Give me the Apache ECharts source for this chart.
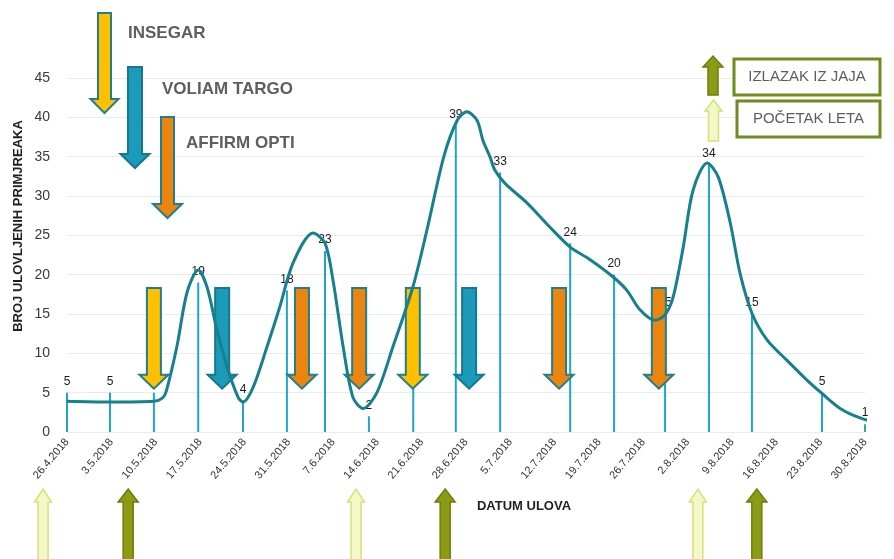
<!DOCTYPE html>
<html>
<head>
<meta charset="utf-8">
<script src="https://cdn.jsdelivr.net/npm/echarts@6/dist/echarts.min.js"></script>
<style>
  html, body { margin: 0; padding: 0; background: #ffffff; }
  #chart { width: 894px; height: 559px; }
</style>
</head>
<body>
<div id="chart"></div>
<script>
// Weekly dates shown on the x axis (tick n = n weeks after 26.4.2018)
const weekLabels = ['26.4.2018', '3.5.2018', '10.5.2018', '17.5.2018', '24.5.2018', '31.5.2018',
  '7.6.2018', '14.6.2018', '21.6.2018', '28.6.2018', '5.7.2018', '12.7.2018', '19.7.2018',
  '26.7.2018', '2.8.2018', '9.8.2018', '16.8.2018', '23.8.2018', '30.8.2018'];

// Trap catches: time of reading (weeks after 26.4.2018) and number of specimens
const catchWeek  = [0, 0.97, 1.96, 2.96, 3.97, 4.96, 5.82, 6.81, 7.81, 8.77, 9.77, 11.35, 12.34, 13.49, 14.48, 15.45, 17.03, 18];
const catchCount = [5, 5, 5, 19, 4, 18, 23, 2, 6, 39, 33, 24, 20, 15, 34, 15, 5, 1];

// Smoothed flight curve
const trendWeek  = [0, 0.97, 1.96, 2.15, 2.24, 2.48, 2.71, 2.96, 3.16, 3.38, 3.61, 3.86, 3.97,
  4.2, 4.51, 4.8, 5.1, 5.55, 5.82, 6.0, 6.23, 6.45, 6.68, 6.99, 7.35, 7.8, 8.12, 8.5, 8.8, 9.02,
  9.25, 9.38, 9.54, 9.65, 9.88, 10.38, 10.9, 11.35, 11.8, 12.32, 12.63, 12.93, 13.26, 13.49,
  13.67, 13.9, 14.12, 14.44, 14.69, 14.96, 15.18, 15.45, 15.79, 16.24, 16.69, 17.03, 17.44,
  17.89, 18.34, 18.66];
const trendValue = [3.9, 3.8, 3.9, 4.3, 5.2, 10.9, 17.8, 20.6, 18.4, 13, 8.3, 4.4, 3.8,
  5.7, 10.8, 15.9, 21.5, 25.3, 24, 19.3, 10.8, 4.4, 3.0, 5, 10.8, 18.4, 25.7, 35, 39.6, 40.7,
  39.6, 37.1, 35, 33.3, 31.6, 29.1, 26, 23.5, 21.9, 19.7, 18, 15.5, 14.2, 14.9,
  17.1, 23.5, 30.7, 34.2, 32.4, 26.6, 20.2, 15.1, 11.7, 9.1, 6.6, 4.9, 3.0,
  1.8, 1.2, 1.3];

// Spray applications (weeks after 26.4.2018) and product used
const products     = ['INSEGAR', 'VOLIAM TARGO', 'AFFIRM OPTI'];
const sprayWeek    = [1.96, 3.5, 5.3, 6.59, 7.8, 9.07, 11.1, 13.35];
const sprayProduct = [0, 1, 2, 2, 0, 1, 2, 2];

// Development stages of the pest (weeks after 26.4.2018)
const stages     = ['IZLAZAK IZ JAJA', 'POČETAK LETA'];
const stageWeek  = [-0.54, 1.38, 6.52, 8.53, 14.23, 15.56];
const stageType  = [1, 0, 1, 0, 1, 0];

const FONT = '"Liberation Sans", Arial, sans-serif';
const productStyle = [
  { fill: '#FFC000', stroke: '#1F7F8F' },
  { fill: '#1B9BB9', stroke: '#16788C' },
  { fill: '#EC850F', stroke: '#1F7F8F' }
];
const stageStyle = [
  { fill: '#8C9B14', stroke: '#6F7C0C' },
  { fill: '#F3F8C6', stroke: '#D3E27F' }
];

// Polygon for a vertical block arrow. dir = 1 points down, -1 points up.
function arrowPoints(cx, yTail, yTip, headLen, shaftW, headW, dir) {
  const yBase = yTip - dir * headLen;
  return [
    [cx - shaftW / 2, yTail], [cx + shaftW / 2, yTail],
    [cx + shaftW / 2, yBase], [cx + headW / 2, yBase],
    [cx, yTip],
    [cx - headW / 2, yBase], [cx - shaftW / 2, yBase]
  ];
}

const chart = echarts.init(document.getElementById('chart'), null, { renderer: 'canvas' });

const legendGraphics = [];
// Spray legend (top left)
const sprayLegend = [
  { cx: 104.5, top: 13, tip: 113, sw: 13, hw: 28, tx: 128, ty: 33 },
  { cx: 135, top: 67, tip: 168, sw: 14, hw: 29, tx: 162, ty: 89 },
  { cx: 167.5, top: 117, tip: 218, sw: 13, hw: 29, tx: 186, ty: 143 }
];
sprayLegend.forEach((g, i) => {
  legendGraphics.push({
    type: 'polygon', z: 20,
    shape: { points: arrowPoints(g.cx, g.top, g.tip, 14, g.sw, g.hw, 1) },
    style: { fill: productStyle[i].fill, stroke: productStyle[i].stroke, lineWidth: 2 }
  });
  legendGraphics.push({
    type: 'text', z: 20, x: g.tx, y: g.ty,
    style: { text: products[i], fill: '#5E5E5E', font: 'bold 17px ' + FONT, textVerticalAlign: 'middle' }
  });
});
// Stage legend (top right)
const stageLegend = [
  { cx: 713, top: 95, tip: 56, bx: 734, by: 59, bw: 146, bh: 36 },
  { cx: 713.5, top: 141, tip: 100, bx: 737, by: 101, bw: 143, bh: 36 }
];
stageLegend.forEach((g, i) => {
  legendGraphics.push({
    type: 'polygon', z: 20,
    shape: { points: arrowPoints(g.cx, g.top, g.tip, 11, 10, i === 0 ? 20 : 17, -1) },
    style: { fill: stageStyle[i].fill, stroke: stageStyle[i].stroke, lineWidth: 1.5 }
  });
  legendGraphics.push({
    type: 'rect', z: 20,
    shape: { x: g.bx, y: g.by, width: g.bw, height: g.bh },
    style: { fill: '#ffffff', stroke: '#6E8C1E', lineWidth: 3 }
  });
  legendGraphics.push({
    type: 'text', z: 21, x: g.bx + g.bw / 2, y: g.by + g.bh / 2,
    style: { text: stages[i], fill: '#5E5E5E', font: '15px ' + FONT, textAlign: 'center', textVerticalAlign: 'middle' }
  });
});
// Axis titles
legendGraphics.push({
  type: 'text', z: 20, x: 18, y: 226, rotation: Math.PI / 2,
  style: { text: 'BROJ ULOVLJENIH PRIMJREAKA', fill: '#1F1F1F', font: 'bold 13px ' + FONT, textAlign: 'center', textVerticalAlign: 'middle' }
});
legendGraphics.push({
  type: 'text', z: 20, x: 524, y: 506,
  style: { text: 'DATUM ULOVA', fill: '#1F1F1F', font: 'bold 13px ' + FONT, textAlign: 'center', textVerticalAlign: 'middle' }
});

const option = {
  backgroundColor: '#ffffff',
  animation: false,
  grid: { left: 67, right: 29, top: 78, bottom: 127, containLabel: false },
  xAxis: {
    type: 'value', min: 0, max: weekLabels.length - 1, interval: 1,
    axisLine: { show: false }, axisTick: { show: false }, splitLine: { show: false },
    axisLabel: {
      rotate: 50, margin: 8, fontSize: 11, fontFamily: FONT, color: '#333333',
      formatter: v => weekLabels[Math.round(v)] || ''
    }
  },
  yAxis: {
    type: 'value', min: 0, max: 45, interval: 5,
    axisLine: { show: false }, axisTick: { show: false },
    splitLine: { lineStyle: { color: '#EBEBEB', width: 1 } },
    axisLabel: { fontSize: 14, fontFamily: FONT, color: '#3A3A3A', margin: 17 }
  },
  graphic: legendGraphics,
  series: [
    {
      name: 'catch', type: 'bar', z: 2, barWidth: 2,
      data: catchWeek.map((w, i) => [w, catchCount[i]]),
      itemStyle: { color: p => (p.dataIndex === catchCount.length - 1 ? '#2DB47C' : '#1EA6C6') },
      label: { show: true, position: 'top', distance: 5, fontSize: 12, fontFamily: FONT, color: '#1A1A1A' }
    },
    {
      name: 'spray', type: 'custom', z: 5,
      data: sprayWeek.map((w, i) => [w, 0, sprayProduct[i]]),
      encode: { x: 0, y: 1 },
      renderItem: (params, api) => {
        const cx = api.coord([api.value(0), 0])[0];
        const top = api.coord([0, 18.3])[1];
        const tip = api.coord([0, 5.5])[1];
        const st = productStyle[api.value(2)];
        return {
          type: 'polygon',
          shape: { points: arrowPoints(cx, top, tip, 14, 14, 29, 1) },
          style: { fill: st.fill, stroke: st.stroke, lineWidth: 2 }
        };
      }
    },
    {
      name: 'stage', type: 'custom', z: 5,
      data: stageWeek.map((w, i) => [w, 0, stageType[i]]),
      encode: { x: 0, y: 1 },
      renderItem: (params, api) => {
        const base = api.coord([api.value(0), 0]);
        const t = api.value(2);
        const st = stageStyle[t];
        return {
          type: 'polygon',
          shape: { points: arrowPoints(base[0], base[1] + 130, base[1] + 57, 13, 10, t === 0 ? 20 : 17, -1) },
          style: { fill: st.fill, stroke: st.stroke, lineWidth: 1.5 }
        };
      }
    },
    {
      name: 'trend', type: 'line', z: 10, clip: false,
      smooth: 0.3, symbol: 'none',
      data: trendWeek.map((w, i) => [w, trendValue[i]]),
      lineStyle: { color: '#16808E', width: 3 }
    }
  ]
};
chart.setOption(option);
</script>
</body>
</html>
